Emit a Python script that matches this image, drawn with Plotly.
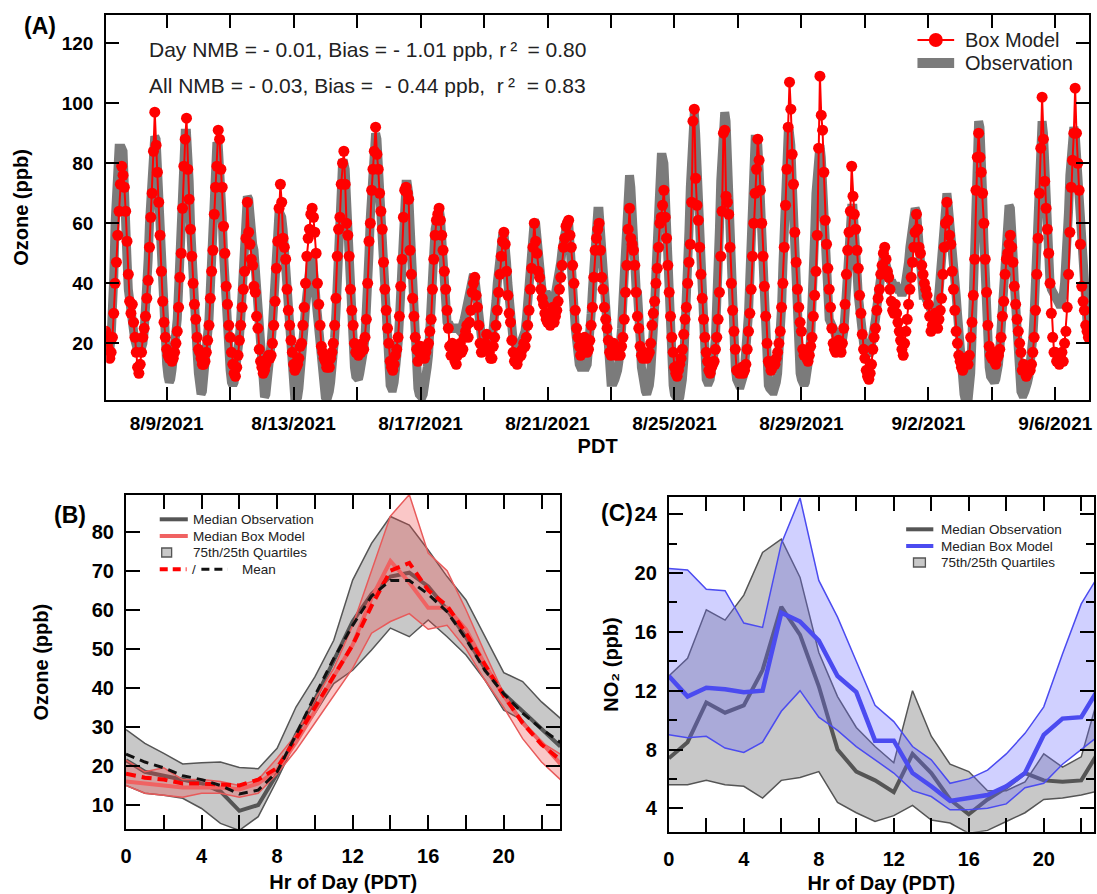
import pandas as pd
import plotly.graph_objects as go

FONT = "Liberation Sans, Arial, Helvetica, sans-serif"
W, H = 1097, 894

# ---------------- (A) hourly ozone time series ----------------
series_start = "2021-08-07 02:00"

# Box model ozone (ppb), hourly, one row per day (first row starts at 02:00)
box_model_o3 = [
    24, 21, 18, 15, 17, 22, 30, 40, 47, 56, 64, 73, 79, 76, 72, 64, 54, 43, 34, 30, 33, 27,
    22, 17, 12, 10, 13, 17, 22, 25, 29, 35, 41, 52, 62, 70, 84, 97, 86, 77, 67, 56, 44, 34, 27, 22,
    18, 16, 15, 16, 14, 15, 17, 20, 24, 32, 42, 50, 65, 79, 88, 95, 78, 68, 58, 49, 40, 33, 28, 22,
    18, 17, 15, 13, 13, 14, 17, 21, 26, 35, 44, 51, 63, 72, 79, 91, 88, 78, 72, 59, 50, 39, 33, 26,
    22, 17, 13, 10, 9, 12, 16, 21, 26, 32, 38, 44, 55, 67, 57, 53, 48, 46, 39, 37, 29, 25, 18, 14,
    12, 10, 11, 13, 15, 16, 15, 16, 20, 26, 34, 45, 54, 65, 73, 67, 55, 52, 48, 38, 31, 26, 21, 17,
    13, 11, 12, 13, 15, 19, 20, 26, 32, 40, 49, 55, 58, 63, 65, 62, 57, 50, 40, 33, 26, 19, 17, 15,
    14, 12, 13, 12, 15, 17, 20, 26, 35, 49, 58, 62, 73, 80, 84, 73, 60, 56, 49, 38, 31, 26, 20, 17,
    18, 16, 17, 17, 20, 18, 22, 28, 40, 54, 60, 71, 78, 84, 92, 83, 78, 70, 64, 58, 47, 38, 31, 25,
    20, 14, 12, 11, 13, 16, 18, 22, 29, 39, 48, 62, 71, 72, 70, 68, 51, 43, 35, 29, 22, 18, 14, 17,
    19, 17, 16, 15, 17, 19, 20, 24, 28, 38, 48, 56, 61, 63, 65, 61, 56, 51, 44, 38, 31, 25, 19, 16,
    20, 16, 14, 13, 16, 18, 20, 17, 18, 22, 24, 26, 22, 27, 31, 37, 40, 42, 36, 32, 26, 20, 17, 19,
    18, 20, 23, 19, 17, 15, 15, 19, 22, 26, 31, 37, 43, 49, 54, 57, 53, 44, 36, 30, 27, 21, 17, 14,
    15, 13, 15, 17, 16, 18, 20, 19, 22, 26, 31, 38, 45, 52, 60, 54, 50, 44, 42, 38, 35, 33, 30, 28,
    27, 30, 26, 28, 32, 27, 29, 31, 34, 38, 42, 46, 52, 55, 59, 60, 61, 56, 52, 46, 40, 31, 25, 22,
    19, 16, 18, 20, 22, 19, 17, 18, 21, 26, 32, 42, 51, 55, 58, 60, 51, 42, 38, 32, 28, 25, 21, 17,
    16, 19, 20, 18, 16, 17, 18, 16, 19, 22, 28, 37, 46, 58, 65, 55, 53, 51, 46, 37, 29, 25, 19, 16,
    15, 17, 16, 15, 16, 17, 20, 26, 30, 34, 40, 45, 52, 60, 62, 66, 71, 62, 55, 46, 37, 29, 22, 17,
    12, 10, 9, 11, 13, 15, 18, 23, 28, 32, 40, 47, 53, 67, 94, 98, 75, 66, 61, 52, 43, 35, 28, 22,
    17, 14, 11, 10, 12, 13, 14, 18, 22, 28, 37, 49, 64, 90, 91, 69, 67, 63, 52, 40, 31, 24, 18, 11,
    11, 10, 11, 12, 10, 11, 13, 18, 24, 30, 38, 49, 60, 70, 78, 88, 81, 71, 60, 49, 39, 29, 20, 14,
    13, 11, 12, 14, 13, 15, 17, 20, 24, 32, 40, 52, 66, 78, 92, 107, 98, 83, 73, 57, 47, 38, 32, 27,
    24, 18, 16, 17, 15, 14, 16, 19, 22, 29, 36, 44, 56, 85, 109, 96, 91, 77, 61, 53, 45, 38, 32, 25,
    20, 18, 17, 19, 21, 18, 17, 20, 25, 33, 43, 51, 57, 64, 79, 69, 63, 58, 51, 45, 36, 30, 23, 18,
    15, 11, 9, 8, 10, 13, 18, 22, 25, 31, 35, 38, 43, 46, 50, 52, 48, 44, 42, 38, 34, 31, 30, 33,
    30, 27, 24, 21, 18, 16, 20, 24, 28, 33, 38, 42, 47, 52, 57, 63, 58, 52, 50, 46, 43, 40, 38, 36,
    33, 29, 24, 26, 28, 30, 27, 25, 28, 31, 35, 43, 52, 60, 67, 61, 56, 53, 44, 38, 31, 24, 20, 16,
    14, 12, 11, 13, 15, 14, 13, 16, 22, 27, 36, 48, 71, 82, 90, 82, 77, 70, 60, 48, 37, 26, 19, 16,
    15, 17, 14, 13, 15, 16, 18, 22, 29, 34, 43, 48, 50, 53, 56, 52, 47, 39, 33, 28, 24, 20, 17, 11,
    13, 11, 9, 10, 12, 11, 13, 17, 22, 31, 43, 55, 70, 85, 102, 88, 74, 65, 58, 50, 40, 30, 22, 17,
    17, 14, 16, 13, 15, 17, 14, 20, 24, 32, 43, 57, 72, 81, 90, 105, 90, 80, 71, 53, 39, 34, 31, 26,
    24, 22,
]

# Observed ozone (ppb), hourly, same layout
observed_o3 = [
    25, 22, 20, 18, 22, 30, 42, 60, 75, 84, 85, 85, 85, 84, 76, 62, 48, 38, 32, 30, 27, 24,
    21, 18, 16, 16, 17, 18, 20, 24, 30, 38, 48, 60, 72, 84, 89, 89, 88, 78, 64, 50, 38, 30, 24, 18,
    13, 9, 7, 8, 11, 14, 17, 22, 28, 38, 50, 64, 78, 88, 90, 90, 84, 74, 60, 48, 38, 30, 23, 17,
    10, 5, 3, 4, 8, 12, 16, 21, 28, 38, 50, 64, 76, 86, 87, 86, 80, 72, 62, 50, 40, 31, 23, 16,
    11, 7, 6, 7, 10, 14, 18, 22, 28, 38, 52, 64, 69, 69, 68, 60, 55, 53, 51, 45, 36, 27, 19, 12,
    6, 3, 2, 3, 6, 10, 15, 20, 26, 36, 48, 58, 64, 64, 63, 62, 58, 52, 44, 36, 28, 20, 12, 6,
    3, 1, 1, 2, 5, 9, 14, 20, 26, 32, 38, 42, 46, 48, 49, 46, 40, 34, 28, 22, 16, 10, 6, 3,
    2, 1, 2, 4, 7, 11, 16, 22, 30, 42, 56, 68, 76, 80, 80, 78, 68, 56, 44, 34, 26, 18, 12, 9,
    8, 8, 10, 12, 15, 18, 22, 28, 38, 50, 62, 74, 84, 90, 90, 88, 80, 70, 60, 50, 40, 30, 20, 12,
    8, 6, 5, 5, 7, 10, 14, 20, 28, 38, 50, 62, 70, 73, 73, 70, 60, 48, 38, 28, 18, 10, 5, 3,
    2, 2, 3, 5, 8, 12, 16, 22, 30, 40, 50, 58, 63, 65, 65, 62, 54, 45, 36, 30, 27, 26, 26, 25,
    25, 24, 25, 26, 25, 24, 24, 25, 26, 28, 30, 32, 34, 36, 38, 41, 43, 42, 38, 32, 28, 24, 22, 21,
    20, 20, 21, 21, 20, 20, 21, 24, 28, 34, 40, 46, 50, 54, 56, 57, 54, 47, 40, 33, 28, 24, 21, 20,
    19, 18, 18, 19, 20, 21, 22, 24, 28, 33, 40, 47, 54, 59, 61, 60, 54, 47, 42, 38, 37, 36, 36, 37,
    36, 35, 34, 33, 33, 34, 36, 38, 40, 43, 47, 51, 55, 58, 60, 61, 60, 55, 48, 40, 32, 25, 19, 15,
    13, 12, 12, 12, 12, 12, 13, 17, 23, 30, 38, 47, 55, 61, 64, 64, 58, 50, 42, 34, 26, 18, 12, 8,
    7, 7, 7, 8, 9, 11, 14, 18, 25, 34, 46, 58, 68, 75, 76, 72, 60, 48, 40, 38, 37, 32, 22, 12,
    8, 5, 4, 3, 4, 6, 10, 15, 22, 32, 44, 58, 70, 78, 82, 82, 80, 70, 56, 44, 32, 22, 13, 6,
    3, 2, 1, 1, 2, 4, 8, 14, 22, 32, 44, 58, 72, 86, 96, 97, 90, 78, 64, 50, 38, 28, 18, 12,
    8, 7, 7, 8, 10, 13, 17, 22, 30, 42, 58, 74, 90, 97, 97, 94, 80, 64, 50, 38, 28, 20, 12, 8,
    6, 6, 6, 7, 9, 12, 16, 22, 30, 42, 56, 70, 82, 88, 88, 86, 78, 66, 52, 40, 28, 18, 10, 6,
    5, 4, 4, 4, 5, 7, 10, 15, 22, 32, 46, 62, 78, 88, 90, 90, 86, 74, 60, 48, 36, 26, 16, 10,
    8, 7, 6, 7, 9, 12, 16, 22, 30, 42, 56, 70, 80, 86, 86, 82, 72, 58, 46, 36, 30, 28, 27, 26,
    26, 24, 22, 20, 18, 17, 18, 20, 24, 30, 38, 48, 58, 64, 65, 65, 60, 52, 44, 36, 30, 25, 22, 20,
    19, 18, 17, 16, 17, 19, 22, 25, 28, 32, 36, 40, 44, 47, 49, 48, 45, 42, 41, 41, 40, 40, 39, 39,
    39, 38, 38, 37, 37, 37, 38, 40, 43, 47, 52, 57, 62, 64, 65, 64, 58, 50, 42, 37, 36, 36, 35, 35,
    34, 33, 31, 30, 29, 30, 31, 33, 37, 43, 51, 59, 66, 69, 70, 66, 62, 56, 50, 46, 42, 36, 30, 22,
    16, 10, 6, 3, 1, 0, 1, 4, 10, 22, 38, 58, 80, 92, 94, 92, 84, 70, 54, 40, 28, 18, 12, 9,
    8, 7, 7, 8, 10, 13, 18, 25, 34, 45, 56, 63, 66, 66, 65, 60, 50, 40, 30, 20, 12, 7, 4, 3,
    3, 4, 5, 7, 9, 12, 16, 22, 30, 42, 58, 74, 88, 94, 94, 90, 76, 60, 48, 42, 40, 38, 37, 36,
    36, 35, 34, 33, 33, 34, 36, 40, 46, 54, 64, 76, 88, 92, 92, 90, 82, 72, 62, 54, 46, 38, 32, 28,
    27, 26,
]

# labelled date ticks every four days, unlabelled ones in between
date_ticks = ["2021-08-09", "2021-08-13", "2021-08-17", "2021-08-21",
              "2021-08-25", "2021-08-29", "2021-09-02", "2021-09-06"]
date_labels = ["8/9/2021", "8/13/2021", "8/17/2021", "8/21/2021",
               "8/25/2021", "8/29/2021", "9/2/2021", "9/6/2021"]
date_minor_ticks = ["2021-08-11", "2021-08-15", "2021-08-19", "2021-08-23",
                    "2021-08-27", "2021-08-31", "2021-09-04"]

stats_day = "Day NMB = - 0.01, Bias = - 1.01 ppb, r\u2009\u00b2\u2009 = 0.80"
stats_all = "All NMB = - 0.03, Bias =\u00a0 - 0.44 ppb,\u00a0 r\u2009\u00b2\u00a0 = 0.83"

# ---------------- (B) diurnal ozone ----------------
hour_of_day = list(range(24))
o3_obs_upper = [29.3, 25.8, 23.2, 20.5, 20.8, 21.0, 19.6, 19.3, 24.5, 35.1, 42.8, 52.2,
                67.6, 77.0, 83.9, 81.7, 75.3, 68.5, 62.5, 53.1, 43.9, 41.6, 36.4, 32.2]
o3_obs_lower = [15.0, 13.0, 12.5, 11.7, 9.1, 5.3, 3.5, 7.0, 16.4, 26.6, 33.4, 41.1,
                44.5, 49.7, 55.3, 53.1, 57.4, 53.1, 48.4, 42.0, 34.3, 31.7, 25.7, 21.0]
o3_obs_median = [21.5, 18.5, 17.5, 16.5, 15.5, 13.5, 8.5, 10.0, 18.0, 28.0, 37.0, 47.0,
                 57.0, 64.0, 68.5, 69.5, 66.0, 60.0, 53.0, 45.0, 38.5, 34.0, 29.5, 25.0]
o3_obs_mean = [23.0, 21.0, 19.5, 17.5, 16.5, 15.0, 12.8, 13.8, 18.5, 28.0, 38.0, 47.5,
               56.0, 63.5, 67.5, 67.5, 64.0, 59.5, 52.5, 44.5, 38.5, 33.5, 29.5, 26.0]
o3_mod_upper = [21.5, 18.5, 19.5, 16.5, 16.5, 16.0, 15.0, 16.5, 22.0, 28.0, 37.0, 45.0,
                56.0, 70.0, 84.0, 89.5, 74.5, 70.0, 60.0, 49.0, 38.5, 31.0, 26.0, 23.0]
o3_mod_lower = [15.0, 13.0, 12.5, 12.0, 13.0, 13.0, 12.0, 13.0, 18.0, 24.0, 31.0, 38.0,
                45.0, 54.0, 57.0, 59.0, 55.0, 56.0, 50.0, 42.0, 35.0, 27.0, 21.0, 16.5]
o3_mod_median = [16.0, 15.5, 15.0, 14.5, 14.5, 14.5, 14.0, 15.5, 19.0, 26.0, 34.0, 43.0,
                 51.0, 63.0, 72.5, 67.0, 60.5, 60.5, 55.0, 46.0, 38.0, 31.0, 26.0, 20.5]
o3_mod_mean = [18.0, 17.0, 16.5, 15.5, 15.5, 15.2, 15.0, 16.5, 19.5, 27.0, 35.0, 43.0,
               51.0, 61.0, 70.0, 72.0, 65.0, 61.0, 54.0, 46.0, 38.0, 31.0, 25.5, 21.5]

# ---------------- (C) diurnal NO2 ----------------
no2_obs_upper = [13.0, 14.2, 17.5, 16.8, 18.5, 21.4, 22.3, 19.7, 14.6, 11.6, 9.5, 8.2,
                 7.1, 12.0, 8.9, 7.0, 6.5, 5.2, 5.2, 5.8, 7.7, 6.8, 7.5, 12.0]
no2_obs_lower = [5.6, 5.6, 5.9, 5.6, 5.5, 4.7, 5.9, 6.1, 6.5, 4.4, 3.7, 3.1,
                 3.5, 4.2, 3.2, 3.0, 2.3, 2.5, 3.1, 3.7, 4.6, 4.7, 4.9, 5.2]
no2_obs_median = [7.4, 8.5, 11.2, 10.5, 11.0, 13.4, 17.7, 15.8, 12.3, 8.0, 6.5, 5.9,
                  5.1, 7.7, 6.4, 4.6, 3.6, 4.6, 5.4, 6.4, 5.9, 5.8, 5.9, 8.0]
no2_mod_upper = [20.3, 20.2, 18.9, 18.8, 16.6, 16.3, 22.0, 25.1, 19.5, 17.0, 14.0, 11.0,
                 9.9, 8.2, 7.3, 5.7, 6.0, 6.6, 7.7, 9.1, 10.9, 14.5, 17.9, 20.0]
no2_mod_lower = [9.0, 8.8, 8.9, 8.1, 7.8, 8.5, 10.6, 12.0, 10.2, 9.3, 8.2, 7.3,
                 6.4, 5.2, 4.8, 3.9, 3.9, 4.0, 4.3, 5.4, 5.7, 7.0, 8.0, 9.0]
no2_mod_median = [13.0, 11.6, 12.2, 12.1, 11.9, 12.0, 17.3, 16.7, 15.4, 13.0, 11.9, 8.6,
                  8.6, 6.4, 5.5, 4.5, 4.7, 4.9, 5.5, 6.4, 9.0, 10.1, 10.2, 12.3]

hour_ticks = [0, 4, 8, 12, 16, 20]
hour_minor_ticks = [2, 6, 10, 14, 18, 22]

# ---------------- colours ----------------
RED = "#ff0000"
OBS_GRAY = "#7b7b7b"
DARK = "#555555"
SALMON = "#f06262"
BAND_RED_LINE = "#e85a5a"
BLUE = "#4b4bf0"
GRAY_FILL = "rgba(110,110,110,0.38)"
RED_FILL = "rgba(240,70,70,0.30)"
BLUE_FILL = "rgba(110,110,255,0.32)"


def px(x):
    return x / W


def py(y):
    return 1 - y / H


def xdom(left, right):
    return [px(left), min(1.0, px(right))]


def ydom(top, bottom):
    return [py(bottom), py(top)]


fig = go.Figure()

# (A)
t_model = pd.date_range(series_start, periods=len(box_model_o3), freq="h")
t_obs = pd.date_range(series_start, periods=len(observed_o3), freq="h")
fig.add_trace(go.Scatter(x=t_obs, y=observed_o3, mode="lines", name="Observation",
                         line=dict(color=OBS_GRAY, width=9), showlegend=False,
                         xaxis="x", yaxis="y"))
fig.add_trace(go.Scatter(x=t_model, y=box_model_o3, mode="lines+markers", name="Box Model",
                         line=dict(color=RED, width=2),
                         marker=dict(color=RED, size=11, line=dict(width=0)),
                         showlegend=False, xaxis="x", yaxis="y"))


def band(xa, ya, lower, upper, line_color, fill, width=1.5):
    fig.add_trace(go.Scatter(x=hour_of_day, y=lower, mode="lines",
                             line=dict(color=line_color, width=width),
                             showlegend=False, xaxis=xa, yaxis=ya))
    fig.add_trace(go.Scatter(x=hour_of_day, y=upper, mode="lines", fill="tonexty",
                             fillcolor=fill, line=dict(color=line_color, width=width),
                             showlegend=False, xaxis=xa, yaxis=ya))


def curve(xa, ya, values, color, width, dash="solid"):
    fig.add_trace(go.Scatter(x=hour_of_day, y=values, mode="lines",
                             line=dict(color=color, width=width, dash=dash),
                             showlegend=False, xaxis=xa, yaxis=ya))


# (B)
band("x2", "y2", o3_obs_lower, o3_obs_upper, DARK, GRAY_FILL)
curve("x2", "y2", o3_obs_median, DARK, 4)
band("x2", "y2", o3_mod_lower, o3_mod_upper, BAND_RED_LINE, RED_FILL)
curve("x2", "y2", o3_mod_median, SALMON, 4)
curve("x2", "y2", o3_mod_mean, RED, 4, "10px,6px")
curve("x2", "y2", o3_obs_mean, "#111111", 3, "9px,6px")

# (C)
band("x3", "y3", no2_obs_lower, no2_obs_upper, DARK, GRAY_FILL)
curve("x3", "y3", no2_obs_median, DARK, 4)
band("x3", "y3", no2_mod_lower, no2_mod_upper, BLUE, BLUE_FILL)
curve("x3", "y3", no2_mod_median, BLUE, 4.5)

axis_style = dict(showline=True, linecolor="black", linewidth=2, mirror="ticks",
                  ticks="inside", tickcolor="black", tickwidth=2, showgrid=False,
                  zeroline=False, fixedrange=True)


def minor_ticks(vals, length):
    return dict(tickmode="array", tickvals=vals, ticks="inside", ticklen=length,
                tickwidth=2, tickcolor="black", showgrid=False)


def axis_title(s, standoff):
    return dict(text=s, standoff=standoff,
                font=dict(family=FONT, size=20, weight="bold", color="black"))


fig.update_layout(
    width=W, height=H,
    margin=dict(l=0, r=0, t=0, b=0),
    paper_bgcolor="white", plot_bgcolor="white",
    font=dict(family=FONT, color="black"),
    showlegend=False,
    xaxis=dict(axis_style, domain=xdom(101, 1092), anchor="y", type="date",
               range=["2021-08-07 02:15", "2021-09-07 01:30"],
               tickmode="array", tickvals=date_ticks, ticktext=date_labels,
               minor=minor_ticks(date_minor_ticks, 13),
               ticklen=13, ticklabelstandoff=5,
               title=axis_title("PDT", 6),
               tickfont=dict(size=19, weight="bold", family=FONT)),
    yaxis=dict(axis_style, domain=ydom(15, 400), anchor="x", range=[1.1, 129.4],
               tickmode="array", tickvals=[20, 40, 60, 80, 100, 120],
               ticklen=13, ticklabelstandoff=7,
               title=axis_title("Ozone (ppb)", 28),
               tickfont=dict(size=19, weight="bold", family=FONT)),
    xaxis2=dict(axis_style, domain=xdom(121, 559), anchor="y2", range=[0, 23],
                tickmode="array", tickvals=hour_ticks,
                minor=minor_ticks(hour_minor_ticks, 14),
                ticklen=14, ticklabelstandoff=8,
                title=axis_title("Hr of Day (PDT)", 9),
                tickfont=dict(size=20, weight="bold", family=FONT)),
    yaxis2=dict(axis_style, domain=ydom(495, 829.3), anchor="x2", range=[3.77, 89.4],
                tickmode="array", tickvals=[10, 20, 30, 40, 50, 60, 70, 80],
                ticklen=14, ticklabelstandoff=6,
                title=axis_title("Ozone (ppb)", 38),
                tickfont=dict(size=20, weight="bold", family=FONT)),
    xaxis3=dict(axis_style, domain=xdom(668.3, 1097), anchor="y3", range=[0, 22.68],
                tickmode="array", tickvals=hour_ticks,
                minor=minor_ticks(hour_minor_ticks, 14),
                ticklen=14, ticklabelstandoff=8,
                title=axis_title("Hr of Day (PDT)", 9),
                tickfont=dict(size=20, weight="bold", family=FONT)),
    yaxis3=dict(axis_style, domain=ydom(497.3, 831.7), anchor="x3", range=[2.41, 25.15],
                tickmode="array", tickvals=[4, 8, 12, 16, 20, 24],
                minor=minor_ticks([6, 10, 14, 18, 22], 8),
                ticklen=14, ticklabelstandoff=6,
                title=axis_title("NO\u2082 (ppb)", 11),
                tickfont=dict(size=20, weight="bold", family=FONT)),
)

annotations = []
shapes = []


def text(s, x, y, size, bold=False, xanchor="center", angle=0, color="black"):
    annotations.append(dict(text=s, x=px(x), y=py(y), xref="paper", yref="paper",
                            xanchor=xanchor, yanchor="middle", showarrow=False,
                            textangle=angle,
                            font=dict(family=FONT, size=size, color=color,
                                      weight="bold" if bold else "normal")))


def seg(x0, x1, y, color, width, dash="solid"):
    shapes.append(dict(type="line", xref="paper", yref="paper",
                       x0=px(x0), x1=px(x1), y0=py(y), y1=py(y),
                       line=dict(color=color, width=width, dash=dash)))


def box(x0, x1, y0, y1, fill, edge):
    shapes.append(dict(type="rect", xref="paper", yref="paper",
                       x0=px(x0), x1=px(x1), y0=py(y1), y1=py(y0),
                       fillcolor=fill, line=dict(color=edge, width=1.3)))


# panel tags
text("(A)", 34, 26, 23, bold=True)
text("(B)", 64.5, 515, 23, bold=True)
text("(C)", 616.5, 513, 23, bold=True)

# (A) statistics
text(stats_day, 142, 50, 21, xanchor="left", color="#222222")
text(stats_all, 142, 85, 21, xanchor="left", color="#222222")

# (A) key
seg(919, 956, 40, RED, 2)
shapes.append(dict(type="circle", xref="paper", yref="paper", xsizemode="pixel",
                   ysizemode="pixel", xanchor=px(937.5), yanchor=py(40),
                   x0=-7, x1=7, y0=-7, y1=7, fillcolor=RED, line=dict(width=0)))
seg(919, 956, 63, OBS_GRAY, 10)
text("Box Model", 965, 40, 20, xanchor="left", color="#222222")
text("Observation", 965, 63, 20, xanchor="left", color="#222222")

# (B) key
seg(155, 183.3, 519.3, DARK, 4)
text("Median Observation", 187, 519.3, 13.5, xanchor="left", color="#222222")
seg(155, 183.3, 536, SALMON, 4)
text("Median Box Model", 187, 536, 13.5, xanchor="left", color="#222222")
box(157, 167, 548, 557, "#c8c8c8", DARK)
text("75th/25th Quartiles", 187, 552.7, 13.5, xanchor="left", color="#222222")
seg(155, 182, 569.3, RED, 4, "8px,5px")
text("/", 190, 569.3, 13.5, color="#222222")
seg(197, 223.3, 569.3, "#111111", 3, "8px,5px")
text("Mean", 235.5, 569.3, 13.5, xanchor="left", color="#222222")

# (C) key
seg(907.6, 935, 529.3, DARK, 4)
text("Median Observation", 940.5, 529.3, 13.5, xanchor="left", color="#222222")
seg(907.6, 935, 546, BLUE, 4)
text("Median Box Model", 940.5, 546, 13.5, xanchor="left", color="#222222")
box(915, 927, 558, 567, "#c8c8c8", DARK)
text("75th/25th Quartiles", 940.5, 562.3, 13.5, xanchor="left", color="#222222")

fig.update_layout(annotations=annotations, shapes=shapes)
fig.write_html("out.html")
